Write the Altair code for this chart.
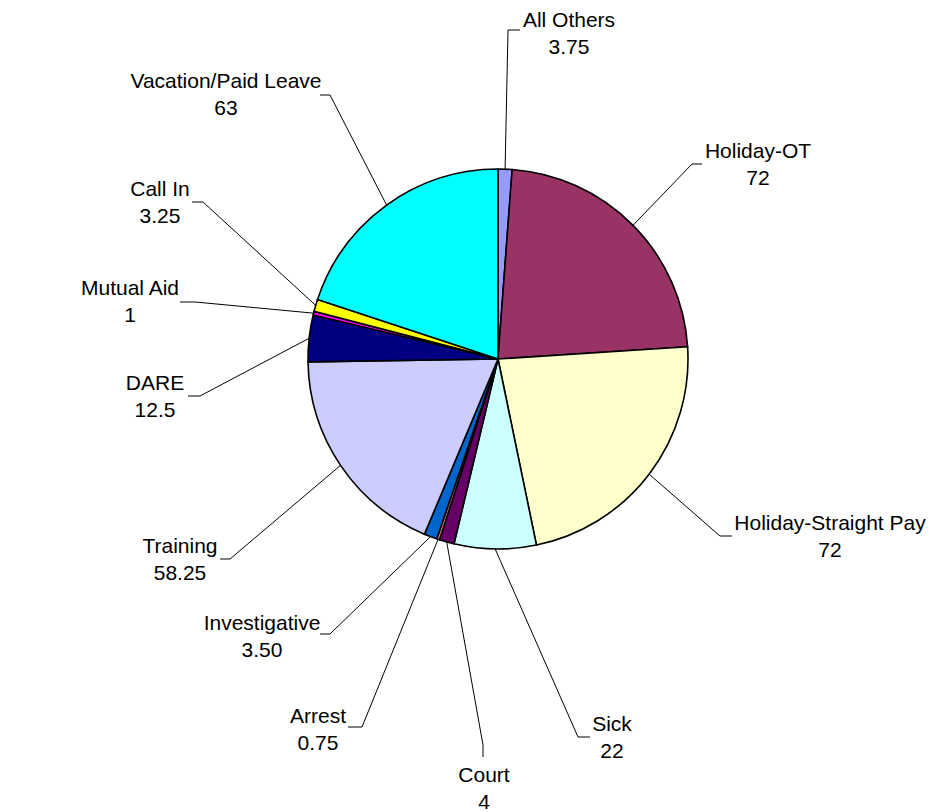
import altair as alt
import pandas as pd

# ---- data ----
categories = ["All Others", "Holiday-OT", "Holiday-Straight Pay", "Sick", "Court",
              "Arrest", "Investigative", "Training", "DARE", "Mutual Aid",
              "Call In", "Vacation/Paid Leave"]
values = [3.75, 72, 72, 22, 4, 0.75, 3.5, 58.25, 12.5, 1, 3.25, 63]
value_labels = ["3.75", "72", "72", "22", "4", "0.75", "3.50", "58.25", "12.5", "1", "3.25", "63"]
colors = ["#9999FF", "#993366", "#FFFFCC", "#CCFFFF", "#660066", "#FF8080",
          "#0066CC", "#CCCCFF", "#000080", "#FF00FF", "#FFFF00", "#00FFFF"]

# ---- layout (page pixel coordinates of label anchors and leader-line elbows) ----
MARGIN = 8
CX, CY, R = 498 - MARGIN, 359 - MARGIN, 190
label_pos = {
    "All Others": (569, 27, 508, 30, 520, 30),
    "Holiday-OT": (758, 158, 692, 164, 702, 164),
    "Holiday-Straight Pay": (830, 530, 720, 536, 732, 536),
    "Sick": (612, 731, 578, 737, 590, 737),
    "Court": (484, 782, 483, 745, 483, 757),
    "Arrest": (318, 723, 362, 727, 348, 727),
    "Investigative": (262, 630, 330, 634, 320, 634),
    "Training": (180, 553, 230, 559, 220, 559),
    "DARE": (155, 390, 200, 396, 188, 396),
    "Mutual Aid": (130, 295, 195, 302, 180, 302),
    "Call In": (160, 196, 203, 202, 192, 202),
    "Vacation/Paid Leave": (226, 88, 330, 95, 320, 95),
}

rows = []
for i, (c, v, vl) in enumerate(zip(categories, values, value_labels)):
    lx, ly, ex, ey, tx, ty = [p - MARGIN for p in label_pos[c]]
    rows.append(dict(category=c, value=v, txt=c + "\n" + vl, idx=i,
                     lx=lx, ly=ly, ex=ex, ey=ey, tx=tx, ty=ty))
df = pd.DataFrame(rows)

base = alt.Chart(df)

pie = base.mark_arc(x=CX, y=CY, radius=R, stroke="black", strokeWidth=1.6).encode(
    theta=alt.Theta("value:Q", stack=True),
    order=alt.Order("idx:Q"),
    color=alt.Color("category:N", scale=alt.Scale(domain=categories, range=colors), legend=None),
)

geo = base.transform_window(
    cum="sum(value)", sort=[alt.SortField("idx")], frame=[None, 0]
).transform_joinaggregate(
    total="sum(value)"
).transform_calculate(
    mid="2*PI*(datum.cum - datum.value/2)/datum.total"
).transform_calculate(
    sx=f"{CX} + {R}*sin(datum.mid)",
    sy=f"{CY} - {R}*cos(datum.mid)",
)

leader = geo.mark_rule(color="black", strokeWidth=1).encode(
    x=alt.X("sx:Q", scale=None, axis=None),
    y=alt.Y("sy:Q", scale=None, axis=None),
    x2="ex:Q",
    y2="ey:Q",
)

tick = base.mark_rule(color="black", strokeWidth=1).encode(
    x=alt.X("ex:Q", scale=None, axis=None),
    y=alt.Y("ey:Q", scale=None, axis=None),
    x2="tx:Q",
    y2="ty:Q",
)

labels = base.mark_text(font="Liberation Sans", fontSize=21, color="black", align="center",
                        baseline="alphabetic", lineBreak="\n", lineHeight=27).encode(
    x=alt.X("lx:Q", scale=None, axis=None),
    y=alt.Y("ly:Q", scale=None, axis=None),
    text="txt:N",
)

chart = alt.layer(pie, leader, tick, labels).properties(
    width=935, height=804, padding=0,
    autosize=alt.AutoSizeParams(type="none"),
).configure_view(stroke=None)

chart.save("out.html", embed_options={"renderer": "svg", "actions": False})
